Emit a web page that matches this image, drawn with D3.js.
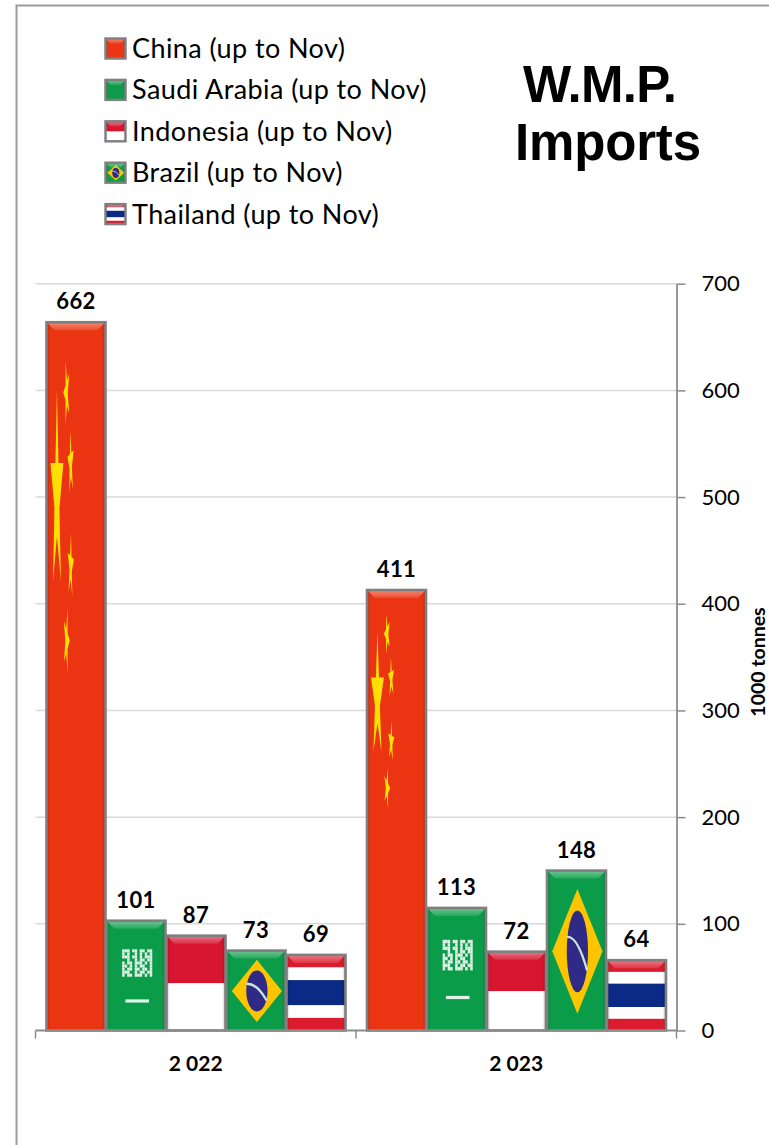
<!DOCTYPE html>
<html><head><meta charset="utf-8">
<script src="https://cdn.jsdelivr.net/npm/d3@7"></script>
<style>
html,body{margin:0;padding:0;background:#fff;overflow:hidden}
svg{display:block}
text{font-family:Lato,"Open Sans",sans-serif;fill:#000}
</style></head><body><div id="c"></div>
<script>
// ---- data ----
const years = ["2 022", "2 023"];
const countries = ["China", "Saudi Arabia", "Indonesia", "Brazil", "Thailand"];
const legendLabels = ["China (up to Nov)", "Saudi Arabia (up to Nov)", "Indonesia (up to Nov)", "Brazil (up to Nov)", "Thailand (up to Nov)"];
const values2022 = [662, 101, 87, 73, 69];
const values2023 = [411, 113, 72, 148, 64];
const yTicks = [0, 100, 200, 300, 400, 500, 600, 700];
const titleLines = ["W.M.P.", "Imports"];
const yTitle = "1000 tonnes";

// ---- layout ----
const W = 769, H = 1145;
const svg = d3.select("#c").append("svg").attr("width", W).attr("height", H);
const defs = svg.append("defs");
const plot = {l: 35.5, r: 676.5, t: 283.7, b: 1030.5};
const y = d3.scaleLinear().domain([0, 700]).range([plot.b, plot.t]);
const x0 = d3.scaleBand().domain(years).range([plot.l, plot.r]);
const x1 = d3.scaleBand().domain(countries).range([10.5, 310.5]);
const GREY = "#7f7f7f";

function blur(id, sd){
  defs.append("filter").attr("id",id).attr("x","-30%").attr("y","-30%").attr("width","160%").attr("height","160%")
    .append("feGaussianBlur").attr("stdDeviation",sd);
}
blur("soft",0.7); blur("edge",0.4); blur("swatch",0.6);
function grad(id, x2, y2, stops){
  const g = defs.append("linearGradient").attr("id",id).attr("x1",0).attr("y1",0).attr("x2",x2).attr("y2",y2);
  stops.forEach(s=>g.append("stop").attr("offset",s[0]).attr("stop-color",s[1]).attr("stop-opacity",s[2]));
}
grad("topLight",0,1,[[0,"#fff",0.42],[1,"#fff",0.12]]);
grad("sideL",1,0,[[0,"#000",0.22],[1,"#000",0]]);
grad("sideR",1,0,[[0,"#000",0],[1,"#000",0.22]]);

// frame
svg.append("path").attr("d",`M16.5,${H}V5.5H${W}`).attr("fill","none").attr("stroke","#9c9c9c").attr("stroke-width",2);

// gridlines
svg.append("g").selectAll("line").data(yTicks.filter(d=>d>0)).join("line")
  .attr("x1",plot.l).attr("x2",plot.r).attr("y1",d=>y(d)).attr("y2",d=>y(d))
  .attr("stroke","#d9d9d9").attr("stroke-width",1.5);

// flag painters: fractions of the bar's own box
const star = (cx,cy,rx,ry,rot) => d3.range(10).map(i=>{
  const r = i%2 ? 0.382 : 1, a = rot + i*Math.PI/5;
  return [cx+rx*r*Math.sin(a), cy-ry*r*Math.cos(a)];
}).join(" ");
const calligraphy = [
  "###.##.##.##",
  "#.#..#.#.#.#",
  "###.##.#.###",
  "..#..#.##.##",
  "#.##.###.#.#",
  "##.#.#.##..#",
  "#.##.##.##.#",
  "###..#.##.##",
  "#.##.###.#.#"
];
const flags = {
  "China": (g,b,detail)=>{
    g.append("rect").attr("x",b.x).attr("y",b.y).attr("width",b.w).attr("height",b.h).attr("fill","#ea3412");
    if(!detail) return;
    const s = g.append("g").attr("filter","url(#soft)").attr("fill","#ffe000");
    s.append("polygon").attr("points",star(b.x+b.w*0.177,b.y+b.h*0.245,b.w*0.115,b.h*0.15,0));
    [[0.34,0.10,-0.3],[0.41,0.20,-0.1],[0.41,0.345,0.1],[0.34,0.45,0.3]].forEach(p=>
      s.append("polygon").attr("points",star(b.x+b.w*p[0],b.y+b.h*p[1],b.w*0.055,b.h*0.048,p[2])));
  },
  "Saudi Arabia": (g,b,detail)=>{
    g.append("rect").attr("x",b.x).attr("y",b.y).attr("width",b.w).attr("height",b.h).attr("fill","#0a9c48");
    if(!detail) return;
    const cols = calligraphy[0].length, rows = calligraphy.length;
    const cx = b.x+b.w*0.265, cw = b.w*0.51/cols, cy = b.y+b.h*0.26, ch = b.h*0.25/rows;
    const t = g.append("g").attr("filter","url(#edge)").attr("fill","#fff").attr("opacity",0.88);
    calligraphy.forEach((row,i)=>row.split("").forEach((c,j)=>{
      if(c==="#") t.append("rect").attr("x",cx+j*cw).attr("y",cy+i*ch).attr("width",cw).attr("height",ch);
    }));
    t.append("rect").attr("x",b.x+b.w*0.32).attr("y",b.y+b.h*0.73-1.5).attr("width",b.w*0.40).attr("height",3.2);
  },
  "Indonesia": (g,b)=>{
    g.append("rect").attr("x",b.x).attr("y",b.y).attr("width",b.w).attr("height",b.h).attr("fill","#fff");
    g.append("rect").attr("x",b.x).attr("y",b.y).attr("width",b.w).attr("height",b.h*0.5).attr("fill","#d7152f");
  },
  "Brazil": (g,b)=>{
    g.append("rect").attr("x",b.x).attr("y",b.y).attr("width",b.w).attr("height",b.h).attr("fill","#0a9c48");
    const cx=b.x+b.w*0.515, cy=b.y+b.h*0.505;
    g.append("polygon").attr("points",[[b.x+b.w*0.09,cy],[cx,b.y+b.h*0.115],[b.x+b.w*0.94,cy],[cx,b.y+b.h*0.895]].join(" ")).attr("fill","#fdc500");
    g.append("ellipse").attr("cx",cx).attr("cy",cy).attr("rx",b.w*0.18).attr("ry",b.h*0.256).attr("fill","#2e2a85");
    g.append("path").attr("d",`M${cx-b.w*0.18},${cy-b.h*0.09}Q${cx},${cy-b.h*0.10} ${cx+b.w*0.165},${cy+b.h*0.12}`)
      .attr("fill","none").attr("stroke","#c9e4dc").attr("stroke-width",b.w*0.04);
  },
  "Thailand": (g,b)=>{
    const bands=[["#dc1c2e",0,1/6],["#fff",1/6,1/3],["#0b2a86",1/3,2/3],["#fff",2/3,5/6],["#dc1c2e",5/6,1]];
    bands.forEach(s=>g.append("rect").attr("x",b.x).attr("y",b.y+b.h*s[1]).attr("width",b.w).attr("height",b.h*(s[2]-s[1])).attr("fill",s[0]));
  }
};
let clipId = 0;
function drawFlagBar(parent, name, x, top, w, h, bevel, sw, detail){
  const id = "clip"+(clipId++);
  defs.append("clipPath").attr("id",id).append("rect").attr("x",x).attr("y",top).attr("width",w).attr("height",h);
  const g = parent.append("g").attr("clip-path",`url(#${id})`);
  flags[name](g,{x,y:top,w,h},detail);
  g.append("polygon").attr("points",[[x,top],[x+w,top],[x+w-bevel,top+bevel],[x+bevel,top+bevel]].join(" ")).attr("fill","url(#topLight)");
  const side = bevel*0.45;
  g.append("rect").attr("x",x).attr("y",top).attr("width",side).attr("height",h).attr("fill","url(#sideL)");
  g.append("rect").attr("x",x+w-side).attr("y",top).attr("width",side).attr("height",h).attr("fill","url(#sideR)");
  parent.append("rect").attr("x",x).attr("y",top).attr("width",w).attr("height",h)
    .attr("fill","none").attr("stroke",GREY).attr("stroke-width",sw).attr("filter","url(#edge)");
}

// bars
const series = [values2022, values2023];
const barsG = svg.append("g");
years.forEach((yr,i)=>{
  countries.forEach((c,j)=>{
    const v = series[i][j];
    const bx = x0(yr)+x1(c), top = y(v)-2;
    drawFlagBar(barsG,c,bx+0.5,top,x1.bandwidth()-1,plot.b-top,8,2.6,true);
    barsG.append("text").attr("x",bx+x1.bandwidth()/2).attr("y",top-13)
      .attr("text-anchor","middle").attr("font-size",22).attr("font-weight",700).attr("letter-spacing",0.4).text(v);
  });
});

// right value axis
const axisR = svg.append("g").attr("transform",`translate(${plot.r},0)`)
  .call(d3.axisRight(y).tickValues(yTicks).tickSize(9).tickPadding(16).tickSizeOuter(0));
axisR.select(".domain").attr("stroke","#8c8c8c").attr("stroke-width",1.8);
axisR.selectAll(".tick line").attr("stroke","#8c8c8c").attr("stroke-width",1.5);
axisR.selectAll(".tick text").attr("font-family","Lato").attr("font-size",22).attr("fill","#000");

// bottom category axis
const edges = [plot.l, x0(years[1]), plot.r];
const axisB = svg.append("g");
axisB.append("line").attr("x1",plot.l).attr("x2",plot.r).attr("y1",plot.b).attr("y2",plot.b).attr("stroke","#8c8c8c").attr("stroke-width",1.8);
axisB.selectAll(".t").data(edges).join("line").attr("class","t")
  .attr("x1",d=>d).attr("x2",d=>d).attr("y1",plot.b).attr("y2",plot.b+8).attr("stroke","#8c8c8c").attr("stroke-width",1.5);
axisB.selectAll("text").data(years).join("text")
  .attr("x",d=>x0(d)+x0.bandwidth()/2).attr("y",1071).attr("text-anchor","middle")
  .attr("font-size",21).attr("font-weight",700).text(d=>d);

// y title
svg.append("text").attr("transform","translate(765,662) rotate(-90)").attr("text-anchor","middle")
  .attr("font-size",19.5).attr("font-weight",700).text(yTitle);

// legend
const legend = svg.append("g");
countries.forEach((c,i)=>{
  const ly = 38.5+i*41.4;
  const sw = legend.append("g").attr("filter","url(#swatch)");
  drawFlagBar(sw,c,105.5,ly,20,20,5,2.4,false);
  legend.append("text").attr("x",132).attr("y",ly+19.5).attr("font-size",27).attr("letter-spacing",0.42).text(legendLabels[i]);
});

// title
const tY=[101.5,160], tX=[523,515], tL=[154,186];
titleLines.forEach((t,i)=>svg.append("text").attr("x",tX[i]).attr("y",tY[i])
  .attr("textLength",tL[i]).attr("lengthAdjust","spacing")
  .style("font-family","'Liberation Sans',Arial,sans-serif").attr("font-weight",700).attr("font-size",51).text(t));
</script></body></html>
